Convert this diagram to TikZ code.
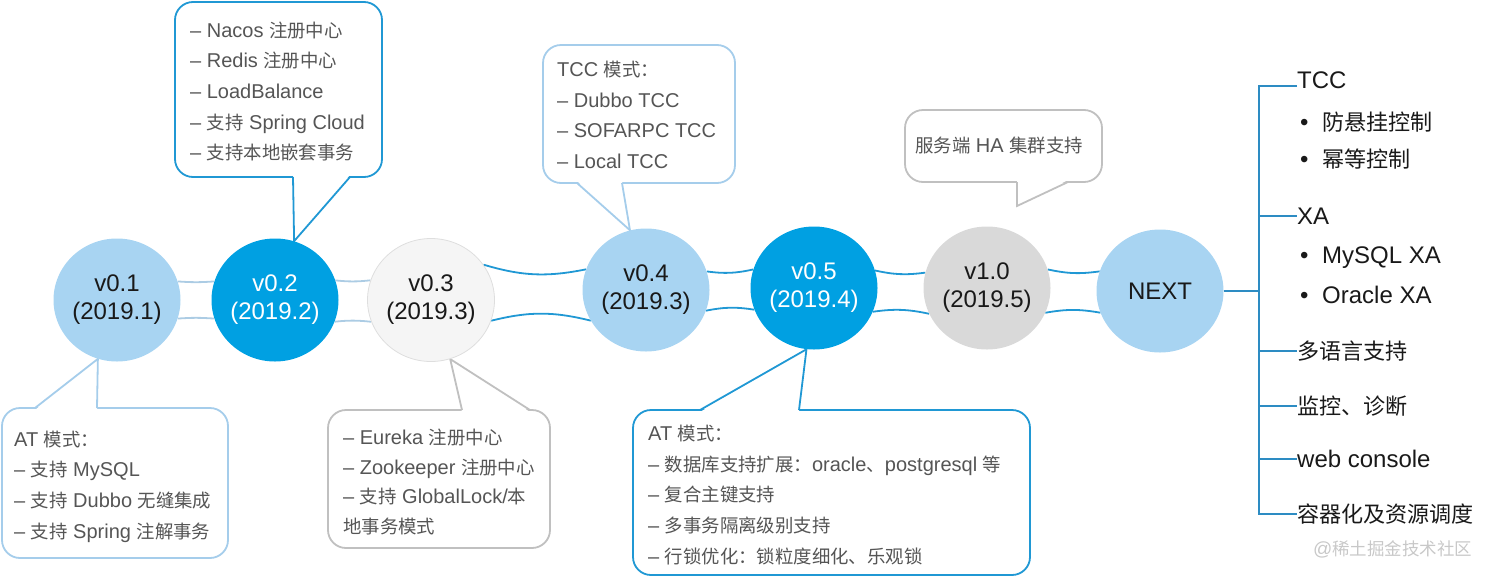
\documentclass[tikz,border=0pt]{standalone}
\usepackage{fontspec}
\setmainfont{Liberation Sans}
\newfontfamily\cjk[Scale=0.92]{Noto Sans CJK SC}
\newcommand{\zh}[1]{{\cjk #1}}
\usetikzlibrary{shapes.geometric, backgrounds}

\definecolor{lblue}{RGB}{168,212,242}
\definecolor{dblue}{RGB}{0,160,226}
\definecolor{pale}{RGB}{245,245,245}
\definecolor{paleline}{RGB}{222,222,222}
\definecolor{lgray}{RGB}{217,217,217}
\definecolor{cblue}{RGB}{32,152,212}
\definecolor{clight}{RGB}{165,205,235}
\definecolor{cgray}{RGB}{192,192,192}
\definecolor{clink}{RGB}{172,204,228}
\definecolor{tree}{RGB}{45,140,195}
\definecolor{notegray}{RGB}{85,85,85}
\definecolor{ink}{RGB}{25,25,25}
\definecolor{wm}{RGB}{200,200,200}

\begin{document}
\begin{tikzpicture}[
    x=1pt, y=-1pt,
    ver/.style={ellipse, minimum width=127pt, minimum height=123pt, inner sep=0pt, align=center, font=\fontsize{24}{28}\selectfont},
    ver light/.style={ver, fill=lblue, text=ink},
    ver dark/.style={ver, fill=dblue, text=white},
    ver pale/.style={ver, fill=pale, draw=paleline, line width=0.8pt, text=ink},
    ver gray/.style={ver, fill=lgray, text=ink},
    box/.style={draw, rounded corners=18pt, fill=white, line width=1.8pt},
    box blue/.style={box, draw=cblue},
    box light/.style={box, draw=clight},
    box gray/.style={box, draw=cgray},
    note/.style={anchor=west, align=left, inner sep=0pt, text=notegray, font=\fontsize{20}{30.7}\selectfont},
    tail/.style={line width=1.8pt, line join=miter},
    link/.style={line width=1.8pt, draw=cblue},
    link pale/.style={line width=1.8pt, draw=clink},
    branch/.style={line width=1.8pt, draw=tree},
    item/.style={anchor=west, inner sep=0pt, text height=17pt, text depth=0pt, text=ink, font=\fontsize{24}{28}\selectfont}
]
\useasboundingbox (0,0) rectangle (1492,579);

% versions
\node[ver light] (v01) at (117,300) {v0.1\\(2019.1)};
\node[ver dark] (v02) at (275,300) {v0.2\\(2019.2)};
\node[ver pale] (v03) at (431,300) {v0.3\\(2019.3)};
\node[ver light] (v04) at (646,290) {v0.4\\(2019.3)};
\node[ver dark] (v05) at (814,288) {v0.5\\(2019.4)};
\node[ver gray] (v10) at (987,288) {v1.0\\(2019.5)};
\node[ver light] (next) at (1160,291) {NEXT};

\begin{scope}[on background layer]
% links between versions
\draw[link pale] (v01.17) to[bend right=4] (v02.163);
\draw[link pale] (v01.-17) to[bend left=4] (v02.197);
\draw[link pale] (v02.18) to[bend right=6] (v03.162);
\draw[link pale] (v02.-20) to[bend left=6] (v03.200);
\draw[link] (v03.34) to[bend right=14] (v04.161);
\draw[link] (v03.-19) to[bend left=14] (v04.209);
\draw[link] (v04.17) to[bend right=10] (v05.163);
\draw[link] (v04.-19) to[bend left=10] (v05.200);
\draw[link] (v05.16) to[bend right=10] (v10.166);
\draw[link] (v05.-22) to[bend left=10] (v10.204);
\draw[link] (v10.17) to[bend right=10] (next.162);
\draw[link] (v10.-23) to[bend left=10] (next.200);

% callout boxes
\node[box blue, minimum width=207pt, minimum height=175pt] (b02) at (278.5,89.5) {};
\node[box light, minimum width=192pt, minimum height=138pt] (b04) at (639,114) {};
\node[box gray, minimum width=197pt, minimum height=72pt] (b10) at (1003.5,146) {};
\node[box light, minimum width=226pt, minimum height=150pt] (b01) at (115,483) {};
\node[box gray, minimum width=222pt, minimum height=138pt] (b03) at (439,479) {};
\node[box blue, minimum width=397pt, minimum height=165pt] (b05) at (831.5,492.5) {};

% tails
\coordinate (b02a) at (293,177);  \coordinate (b02b) at (350,177);
\coordinate (b04a) at (577,183);  \coordinate (b04b) at (622,183);
\coordinate (b10a) at (1017,182); \coordinate (b10b) at (1068,182);
\coordinate (b10t) at (1017,206);
\coordinate (b01a) at (35,408);   \coordinate (b01b) at (97,408);
\coordinate (b03a) at (462,410);  \coordinate (b03b) at (530,410);
\coordinate (b05a) at (700,410);  \coordinate (b05b) at (799,410);

\fill[white] ([yshift=2pt]b02a) -- (v02.72) -- ([yshift=2pt]b02b) -- cycle;
\draw[tail, cblue] (b02a) -- (v02.72) -- (b02b);
\fill[white] ([yshift=2pt]b04a) -- (v04.105) -- ([yshift=2pt]b04b) -- cycle;
\draw[tail, clight] (b04a) -- (v04.105) -- (b04b);
\fill[white] ([yshift=2pt]b10a) -- (b10t) -- ([yshift=2pt]b10b) -- cycle;
\draw[tail, cgray] (b10a) -- (b10t) -- (b10b);
\fill[white] ([yshift=-2pt]b01a) -- (v01.-108) -- ([yshift=-2pt]b01b) -- cycle;
\draw[tail, clight] (b01a) -- (v01.-108) -- (b01b);
\fill[white] ([yshift=-2pt]b03a) -- (v03.-72) -- ([yshift=-2pt]b03b) -- cycle;
\draw[tail, cgray] (b03a) -- (v03.-72) -- (b03b);
\fill[white] ([yshift=-2pt]b05a) -- (v05.-97) -- ([yshift=-2pt]b05b) -- cycle;
\draw[tail, cblue] (b05a) -- (v05.-97) -- (b05b);
\end{scope}

% callout texts
\node[note] (n02) at (190,91.5) {– Nacos \zh{注册中心}\\– Redis \zh{注册中心}\\– LoadBalance\\– \zh{支持} Spring Cloud\\– \zh{支持本地嵌套事务}};
\node[note] (n04) at (557,115) {TCC \zh{模式：}\\– Dubbo TCC\\– SOFARPC TCC\\– Local TCC};
\node[note] (n10) at (915,145) {\zh{服务端} HA \zh{集群支持}};
\node[note] (n01) at (14,486.5) {AT \zh{模式：}\\– \zh{支持} MySQL\\– \zh{支持} Dubbo \zh{无缝集成}\\– \zh{支持} Spring \zh{注解事务}};
\node[note, font=\fontsize{20}{29.5}\selectfont] (n03) at (343,482) {– Eureka \zh{注册中心}\\– Zookeeper \zh{注册中心}\\– \zh{支持} GlobalLock/\zh{本}\\\zh{地事务模式}};
\node[note] (n05) at (648,495) {AT \zh{模式：}\\– \zh{数据库支持扩展：}oracle\zh{、}postgresql \zh{等}\\– \zh{复合主键支持}\\– \zh{多事务隔离级别支持}\\– \zh{行锁优化：锁粒度细化、乐观锁}};

% next steps
\node[item] (tcc) at (1297,80) {TCC};
\node[item] (s1) at (1300,122) {\makebox[22pt][l]{•}\zh{防悬挂控制}};
\node[item] (s2) at (1300,159) {\makebox[22pt][l]{•}\zh{幂等控制}};
\node[item] (xa) at (1297,216) {XA};
\node[item] (s3) at (1300,255) {\makebox[22pt][l]{•}MySQL XA};
\node[item] (s4) at (1300,295) {\makebox[22pt][l]{•}Oracle XA};
\node[item] (lang) at (1297,351) {\zh{多语言支持}};
\node[item] (mon) at (1297,406) {\zh{监控、诊断}};
\node[item] (web) at (1297,459) {web console};
\node[item] (cont) at (1297,514) {\zh{容器化及资源调度}};

\coordinate (trunk n) at (1259,86);
\coordinate (jn) at (1259,291);
\draw[branch] (trunk n -| tcc.west) -- (trunk n) -- (cont.west -| jn) -- (cont.west);
\draw[branch] (next.east) -- (jn);
\draw[branch] (xa.west -| jn) -- (xa.west);
\draw[branch] (lang.west -| jn) -- (lang.west);
\draw[branch] (mon.west -| jn) -- (mon.west);
\draw[branch] (web.west -| jn) -- (web.west);

\node[anchor=west, inner sep=0pt, text=wm, font=\fontsize{19}{19}\selectfont] (mark) at (1313,549) {@\zh{稀土掘金技术社区}};
\end{tikzpicture}
\end{document}
